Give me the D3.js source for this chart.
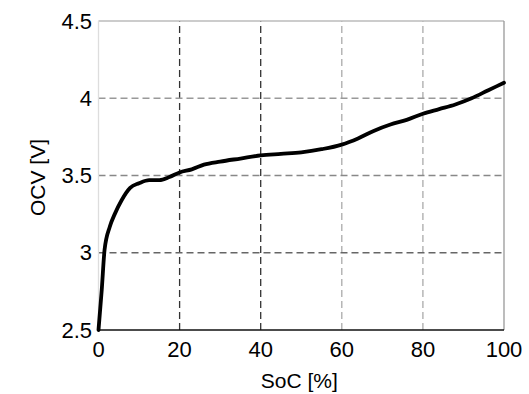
<!DOCTYPE html>
<html>
<head>
<meta charset="utf-8">
<script src="https://cdn.jsdelivr.net/npm/d3@7"></script>
<style>
  body { margin: 0; background: #fff; }
  text { font-family: "Liberation Sans", Arial, sans-serif; fill: #000; }
</style>
</head>
<body>
<div id="chart"></div>
<script>
// state of charge [%] and open circuit voltage [V]
const soc = [0, 0.8, 1.5, 2.8, 4, 5.7, 7.8, 10, 12.5, 15, 17.5, 20, 23, 26, 30, 35, 40, 45, 50, 55, 60, 64, 68, 72, 76, 80, 84, 88, 92, 96, 100];
const ocv = [2.5, 2.76, 3.02, 3.17, 3.25, 3.34, 3.42, 3.45, 3.47, 3.47, 3.49, 3.52, 3.54, 3.57, 3.59, 3.61, 3.63, 3.64, 3.65, 3.67, 3.70, 3.74, 3.79, 3.83, 3.86, 3.90, 3.93, 3.96, 4.00, 4.05, 4.10];

const xTicks = [0, 20, 40, 60, 80, 100];
const yTicks = [2.5, 3, 3.5, 4, 4.5];

const width = 529;
const height = 394;
const margin = { top: 21, right: 25, bottom: 64, left: 98.5 };

const svg = d3.select("#chart")
    .append("svg")
        .attr("width", width)
        .attr("height", height);

const x = d3.scaleLinear()
    .domain([0, 100])
    .range([margin.left, width - margin.right]);

const y = d3.scaleLinear()
    .domain([2.5, 4.5])
    .range([height - margin.bottom, margin.top]);

// grid lines
const vColors = { 20: "#333", 40: "#333", 60: "#aaa", 80: "#aaa" };
const hColors = { 3: "#666", 3.5: "#888", 4: "#999" };

svg.append("g")
    .selectAll("line")
    .data(xTicks.filter(d => d > 0 && d < 100))
    .join("line")
        .attr("x1", d => x(d))
        .attr("x2", d => x(d))
        .attr("y1", y(2.5))
        .attr("y2", y(4.5))
        .attr("stroke", d => vColors[d])
        .attr("stroke-width", 1.3)
        .attr("stroke-dasharray", "7,4");

svg.append("g")
    .selectAll("line")
    .data(yTicks.filter(d => d > 2.5 && d < 4.5))
    .join("line")
        .attr("x1", x(0))
        .attr("x2", x(100))
        .attr("y1", d => y(d))
        .attr("y2", d => y(d))
        .attr("stroke", d => hColors[d])
        .attr("stroke-width", 1.3)
        .attr("stroke-dasharray", "7,4");

// frame
svg.append("line")
    .attr("x1", x(0)).attr("x2", x(100))
    .attr("y1", y(4.5)).attr("y2", y(4.5))
    .attr("stroke", "#bbb").attr("stroke-width", 1.3);
svg.append("line")
    .attr("x1", x(100)).attr("x2", x(100))
    .attr("y1", y(4.5)).attr("y2", y(2.5))
    .attr("stroke", "#999").attr("stroke-width", 1.3);
svg.append("line")
    .attr("x1", x(0)).attr("x2", x(0))
    .attr("y1", y(4.5)).attr("y2", y(2.5))
    .attr("stroke", "#ddd").attr("stroke-width", 1.3);
svg.append("line")
    .attr("x1", x(0)).attr("x2", x(100))
    .attr("y1", y(2.5)).attr("y2", y(2.5))
    .attr("stroke", "#111").attr("stroke-width", 1.5);

// tick labels
svg.append("g")
    .selectAll("text")
    .data(xTicks)
    .join("text")
        .attr("x", d => x(d))
        .attr("y", 357)
        .attr("text-anchor", "middle")
        .attr("font-size", 22)
        .text(d => d);

svg.append("g")
    .selectAll("text")
    .data(yTicks)
    .join("text")
        .attr("x", 92)
        .attr("y", d => y(d))
        .attr("text-anchor", "end")
        .attr("dominant-baseline", "central")
        .attr("font-size", 22)
        .text(d => d);

// axis titles
svg.append("text")
    .attr("x", x(50) - 2)
    .attr("y", 388)
    .attr("text-anchor", "middle")
    .attr("font-size", 21)
    .text("SoC [%]");

svg.append("text")
    .attr("transform", `translate(45,${(y(2.5) + y(4.5)) / 2 + 2}) rotate(-90)`)
    .attr("text-anchor", "middle")
    .attr("font-size", 21)
    .text("OCV [V]");

// curve
const points = soc.map((s, i) => [s, ocv[i]]);

svg.append("path")
    .datum(points)
    .attr("fill", "none")
    .attr("stroke", "#000")
    .attr("stroke-width", 3.8)
    .attr("stroke-linejoin", "round")
    .attr("stroke-linecap", "round")
    .attr("d", d3.line()
        .x(d => x(d[0]))
        .y(d => y(d[1]))
        .curve(d3.curveMonotoneX));
</script>
</body>
</html>
